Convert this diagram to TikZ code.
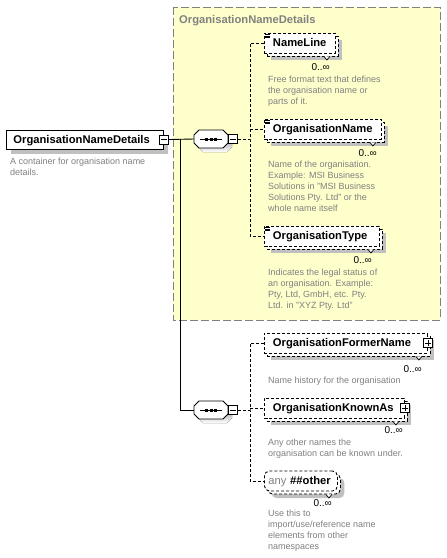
\documentclass[tikz,border=0pt]{standalone}
\usepackage{fontspec}
\setmainfont{Liberation Sans}
\usetikzlibrary{calc,shadows}
\definecolor{groupfill}{RGB}{255,255,204}
\definecolor{groupedge}{RGB}{128,128,128}
\definecolor{shade}{RGB}{192,192,192}
\definecolor{notegray}{RGB}{128,128,128}
\pgfdeclarelayer{wires}
\pgfsetlayers{wires,main}
\newcommand\fsz[2]{\fontsize{#1}{#2}\selectfont}
% small glyphs drawn on top of the boxes
\newcommand\minusmark[1]{\draw[line width=0.8pt] ($(#1.west)+(2,0)$) -- ($(#1.east)+(-2,0)$);}
\newcommand\plusmark[1]{\minusmark{#1}\draw[line width=0.8pt] ($(#1.north)+(0,2)$) -- ($(#1.south)+(0,-2)$);}
% octagonal sequence compositor drawn round a placeholder node
\newcommand\seqoutline[2]{%
  ($(#1.center)+(#2)+(-17,-4)$) -- ($(#1.center)+(#2)+(-12,-9)$) -- ($(#1.center)+(#2)+(12,-9)$) --
  ($(#1.center)+(#2)+(17,-4)$) -- ($(#1.center)+(#2)+(17,4)$) -- ($(#1.center)+(#2)+(12,9)$) --
  ($(#1.center)+(#2)+(-12,9)$) -- ($(#1.center)+(#2)+(-17,4)$) -- cycle}
\newcommand\seqmark[1]{%
  \fill[shade] \seqoutline{#1}{4,4};
  \filldraw[fill=white, line width=0.9pt] \seqoutline{#1}{0,0};
  \draw[line width=0.9pt] ($(#1.center)+(-11,0)$) -- ($(#1.center)+(11,0)$);
  \foreach \k in {-4.5,0,4.5}{\fill ($(#1.center)+(\k-1.5,-1.5)$) rectangle ++(3,3);}}
\newcommand\repeatmark[1]{%
  \draw[line width=0.7pt, fill=white] ($(#1.south east)+(-12,3)$) -- ++(3,3.5) -- ++(3,-3.5);}
\newcommand\simplemark[1]{%
  \foreach \k in {1.5,3.3,5.1}{\draw[line width=0.6pt] ($(#1.north west)+(1.2,\k)$) -- ++(5,0);}}
\begin{document}
\begin{tikzpicture}[x=1pt,y=-1pt,
  wire/.style={line width=0.9pt},
  dashwire/.style={line width=0.9pt, dash pattern=on 3pt off 2pt},
  nameface/.style={font=\fsz{11.2}{13}\bfseries, text height=8.5pt, text depth=1.5pt},
  mainbox/.style={nameface, draw, line width=0.9pt, fill=white, anchor=west,
    minimum height=19pt, inner xsep=7pt, inner ysep=0pt, align=left,
    drop shadow={shadow xshift=5pt, shadow yshift=-5pt, fill=shade, opacity=1, draw=none}},
  elembox/.style={nameface, draw, dashwire, fill=white, anchor=west,
    minimum height=20pt, inner xsep=8.5pt, inner ysep=0pt, align=left,
    drop shadow={shadow xshift=7pt, shadow yshift=-7pt, fill=shade, opacity=1, draw=none},
    copy shadow={shadow xshift=3pt, shadow yshift=-3pt, fill=white, draw=black, dashwire}},
  seqbox/.style={minimum width=34pt, minimum height=18pt, inner sep=0pt},
  togglebox/.style={draw, line width=0.8pt, fill=white, minimum size=9pt, inner sep=0pt},
  mult/.style={anchor=base east, inner sep=0pt, font=\fsz{10}{12}},
  note/.style={anchor=north west, inner sep=0pt, align=left, font=\fsz{9}{11}, text=notegray}]

\useasboundingbox (0,0) rectangle (447,558);

% root element
\node[mainbox, text width=143pt] (main) at (6,139.5) {OrganisationNameDetails};
\node[togglebox] (mainToggle) at (main.east) {};
\minusmark{mainToggle}
\node[note] (mainNote) at (10,158) {A container for organisation name\\details.};

% the two sequence compositors
\node[seqbox] (seqA) at (211,139) {};
\seqmark{seqA}
\node[togglebox, anchor=west] (seqAToggle) at (seqA.east) {};
\minusmark{seqAToggle}

\node[seqbox] (seqB) at (211,410) {};
\seqmark{seqB}
\node[togglebox, anchor=west] (seqBToggle) at (seqB.east) {};
\minusmark{seqBToggle}

% complex type group
\node[anchor=base west, inner sep=0pt, font=\fsz{11.2}{13}\bfseries, text=notegray] (groupTitle) at (179,23) {OrganisationNameDetails};

\node[elembox, text width=54pt] (nameLine) at (264,43) {NameLine};
\simplemark{nameLine}\repeatmark{nameLine}
\node[mult] (nameLineMult) at (330,70.3) {0..∞};
\node[note] (nameLineNote) at (268,75.6) {Free format text that defines\\the organisation name or\\parts of it.};

\node[elembox, text width=100pt] (orgName) at (264,129) {OrganisationName};
\simplemark{orgName}\repeatmark{orgName}
\node[mult] (orgNameMult) at (377,156) {0..∞};
\node[note] (orgNameNote) at (268,161) {Name of the organisation.\\Example: MSI Business\\Solutions in "MSI Business\\Solutions Pty. Ltd" or the\\whole name itself};

\node[elembox, text width=98pt] (orgType) at (264,236) {OrganisationType};
\simplemark{orgType}\repeatmark{orgType}
\node[mult] (orgTypeMult) at (372,263) {0..∞};
\node[note] (orgTypeNote) at (268,268.3) {Indicates the legal status of\\an organisation. Example:\\Pty, Ltd, GmbH, etc. Pty.\\Ltd. in "XYZ Pty. Ltd"};

% second sequence members
\node[elembox, text width=146pt] (formerName) at (264,343) {OrganisationFormerName};
\repeatmark{formerName}
\node[togglebox] (formerToggle) at (formerName.east) {};
\plusmark{formerToggle}
\node[mult] (formerMult) at (422,372) {0..∞};
\node[note] (formerNote) at (268,376.6) {Name history for the organisation};

\node[elembox, text width=123pt] (knownAs) at (264,408) {OrganisationKnownAs};
\repeatmark{knownAs}
\node[togglebox] (knownToggle) at (knownAs.east) {};
\plusmark{knownToggle}
\node[mult] (knownMult) at (403,433) {0..∞};
\node[note] (knownNote) at (268,439) {Any other names the\\organisation can be known under.};

\node[elembox, rounded corners=5pt, inner xsep=4pt, text width=65pt] (anyOther) at (264,481) {{\mdseries\color{notegray}any} \#\#other};
\repeatmark{anyOther}
\node[mult] (anyMult) at (332,506.3) {0..∞};
\node[note] (anyNote) at (268,510) {Use this to\\import/use/reference name\\elements from other\\namespaces};

% page, group frame and connectors underneath the boxes
\begin{pgfonlayer}{wires}
  \fill[white] (0,0) rectangle (447,558);
  \draw[draw=groupedge, line width=1pt, dash pattern=on 8pt off 3pt, fill=groupfill] (173,7) rectangle (440,320);
  \coordinate (fork) at (180,139);
  \coordinate (busA) at (250,139);
  \coordinate (busB) at (250,410);
  \draw[wire] (mainToggle.east) -- (seqA.west);
  \draw[wire] (fork) |- (seqB.west);
  \draw[dashwire] (seqAToggle.east) -- (busA);
  \draw[dashwire] (nameLine.west) -| (busA) |- (orgType.west);
  \draw[dashwire] (busA |- orgName.west) -- (orgName.west);
  \draw[dashwire] (seqBToggle.east) -- (busB);
  \draw[dashwire] (formerName.west) -| (busB) |- (anyOther.west);
  \draw[dashwire] (busB |- knownAs.west) -- (knownAs.west);
\end{pgfonlayer}
\end{tikzpicture}
\end{document}
